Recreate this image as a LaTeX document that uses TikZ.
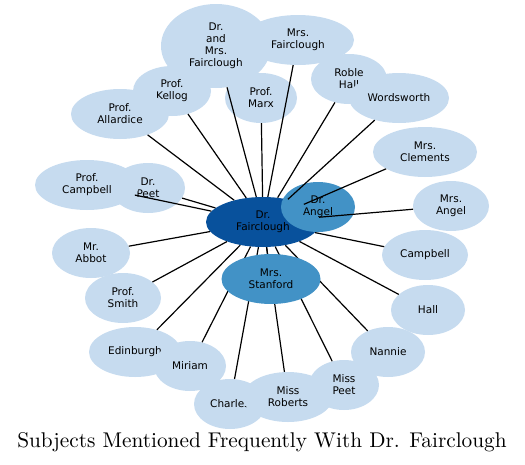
\documentclass[tikz,border=0pt]{standalone}
\usepackage{fontspec}
\setsansfont{DejaVu Sans}
\newfontfamily\titlefont{lmroman10-regular.otf}
\usetikzlibrary{shapes.geometric,backgrounds}
\definecolor{subFill}{RGB}{198,219,239}
\definecolor{midFill}{RGB}{66,146,198}
\definecolor{hubFill}{RGB}{8,81,156}

\begin{document}
\begin{tikzpicture}[x=1pt,y=-1pt,font=\sffamily\fontsize{10.5}{12}\selectfont,
  sub/.style ={ellipse,fill=subFill,inner sep=0pt,align=center,minimum width=74pt,minimum height=50pt},
  mid/.style ={sub,fill=midFill},
  hub/.style ={sub,fill=hubFill,minimum width=114pt},
  link/.style={draw=black,line width=1.2pt}]
\useasboundingbox (0,0) rectangle (525,464);
\node[sub,minimum width=110pt,minimum height=84pt] (drmrs) at (216,46) {Dr.\\and\\Mrs.\\Fairclough};
\node[sub,minimum width=112pt] (mrsfair)  at (298,40)  {Mrs.\\Fairclough};
\node[sub,minimum width=78pt]  (kellog)   at (172,91)  {Prof.\\Kellog};
\node[sub,minimum width=72pt]  (marx)     at (261,98)  {Prof.\\Marx};
\node[sub,minimum width=98pt]  (allardice) at (120,114) {Prof.\\Allardice};
\node[sub,minimum width=76pt]  (roble)    at (349,79)  {Roble\\Hall};
\node[sub,minimum width=100pt] (wordsworth) at (399,98) {Wordsworth};
\node[sub,minimum width=104pt] (clements) at (425,152) {Mrs.\\Clements};
\node[sub]                     (drpeet)   at (148,188) {Dr.\\Peet};
\node[sub,minimum width=104pt] (profcampbell) at (87,185) {Prof.\\Campbell};
\node[sub,minimum width=76pt]  (mrsangel) at (451,206) {Mrs.\\Angel};
\node[sub,minimum width=78pt]  (abbot)    at (91,253)  {Mr.\\Abbot};
\node[sub,minimum width=86pt]  (campbell) at (425,255) {Campbell};
\node[sub,minimum width=76pt]  (smith)    at (123,298) {Prof.\\Smith};
\node[sub]                     (hall)     at (428,310) {Hall};
\node[sub,minimum width=92pt]  (edinburgh) at (135,352) {Edinburgh};
\node[sub]                     (nannie)   at (388,352) {Nannie};
\node[sub,minimum width=72pt]  (miriam)   at (190,366) {Miriam};
\node[sub,minimum width=72pt]  (charles)  at (230,404) {Charles};
\node[sub,minimum width=70pt]  (misspeet) at (344,385) {Miss\\Peet};
\node[sub,minimum width=90pt]  (roberts)  at (288,397) {Miss\\Roberts};
\node[hub] (fair)  at (263,222) {Dr.\\Fairclough};
\node[mid] (angel) at (318,207) {Dr.\\Angel};
\draw[link] (fair) -- (drmrs);
\draw[link] (fair) -- (mrsfair);
\draw[link] (fair) -- (kellog);
\draw[link] (fair) -- (marx);
\draw[link] (fair) -- (allardice);
\draw[link] (fair) -- (roble);
\draw[link] (fair) -- (wordsworth);
\draw[link] (fair) -- (clements);
\draw[link] (fair) -- (drpeet);
\draw[link] (fair) -- (profcampbell);
\draw[link] (fair) -- (mrsangel);
\draw[link] (fair) -- (abbot);
\draw[link] (fair) -- (campbell);
\draw[link] (fair) -- (smith);
\draw[link] (fair) -- (hall);
\draw[link] (fair) -- (edinburgh);
\draw[link] (fair) -- (nannie);
\draw[link] (fair) -- (miriam);
\draw[link] (fair) -- (charles);
\draw[link] (fair) -- (misspeet);
\draw[link] (fair) -- (roberts);
\node[mid,minimum width=99pt] (stanford) at (271,279) {Mrs.\\Stanford};
\begin{scope}[on background layer]
\draw[link] (fair) -- (angel);
\draw[link] (fair) -- (stanford);
\end{scope}
\node[font=\titlefont\fontsize{21.3}{24}\selectfont] (title) at (262,442) {Subjects Mentioned Frequently With Dr. Fairclough};
\end{tikzpicture}
\end{document}
